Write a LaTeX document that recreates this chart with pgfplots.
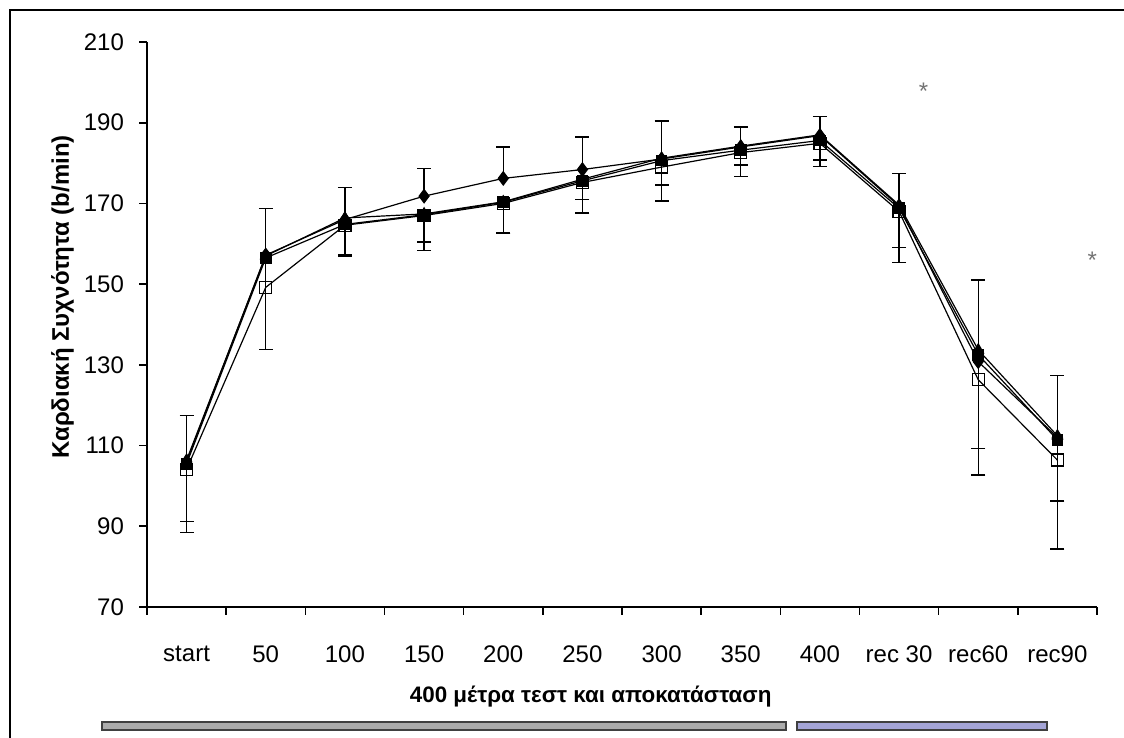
\documentclass[border=0pt]{standalone}
\usepackage{fontspec}
\setmainfont{Liberation Sans}
\usepackage{pgfplots}
\usepackage{pgfplotstable}
\pgfplotsset{compat=1.18}

% heart rate per stage: four groups, with error bar lengths
\pgfplotstableread{
x A     Ap   T     S     Sm   C     Cm
0 106.0 11.5 106.4 105.5 14.3 104.1 15.6
1 157.2 11.6 157.0 156.5 22.7 149.2 15.4
2 166.0 8.0  166.4 164.8 7.6  164.6 7.6
3 171.8 6.8  167.4 167.2 6.8  167.0 8.6
4 176.2 7.8  170.4 170.3 7.6  170.0 7.3
5 178.4 8.1  176.0 175.6 4.6  175.2 7.6
6 181.0 9.4  181.2 180.6 6.0  179.0 8.4
7 184.0 4.9  184.2 183.2 3.7  182.6 6.0
8 186.8 4.8  187.0 185.6 4.8  184.9 5.8
9 169.3 8.1  169.6 168.8 9.7  168.0 12.7
10 130.8 20.2 133.7 132.5 23.3 126.3 23.6
11 112.0 15.3 112.4 111.4 15.1 106.4 22.0
}\hrdata

\definecolor{barblue}{RGB}{165,165,215}

\begin{document}
\begin{tikzpicture}
\begin{axis}[
    at={(73.5pt,65.5pt)}, anchor=south west,
    scale only axis, width=475pt, height=282.5pt,
    xmin=-0.5, xmax=11.5, ymin=70, ymax=210,
    axis lines*=left,
    axis line style={line width=0.9pt},
    tick align=outside, major tick length=4pt,
    tick style={black, line width=0.8pt},
    ytick={70,90,...,210},
    xtick={-0.5,0.5,...,11.5},
    x tick label as interval,
    xticklabels={start,50,100,150,200,250,300,350,400,rec 30,rec60,rec90},
    xticklabel style={yshift=-12pt},
    yticklabel style={xshift=-4pt},
    tick label style={font=\fontsize{12}{14}\selectfont},
    /pgf/number format/assume math mode=true,
    ylabel={Καρδιακή Συχνότητα (b/min)},
    ylabel style={font=\fontsize{12}{14}\selectfont\bfseries,
        at={(axis description cs:-0.089,0.549)}, anchor=center},
    xlabel={400 μέτρα τεστ και αποκατάσταση},
    xlabel style={font=\fontsize{11.2}{13}\selectfont\bfseries,
        at={(axis description cs:0.467,-0.159)}, anchor=center},
    clip=false,
    error bars/error bar style={line width=0.7pt, black},
    error bars/error mark options={rotate=90, mark size=3.5pt, line width=0.7pt},
]
\addplot[black, line width=0.6pt, mark=square, mark size=3pt,
    mark options={fill=white, solid},
    error bars/.cd, y dir=minus, y explicit]
    table[x=x, y=C, y error minus=Cm] {\hrdata};
\addplot[black, line width=0.6pt, mark=square*, mark size=2.6pt,
    error bars/.cd, y dir=minus, y explicit]
    table[x=x, y=S, y error minus=Sm] {\hrdata};
\addplot[black, line width=0.6pt, mark=triangle*, mark size=3pt]
    table[x=x, y=T] {\hrdata};
\addplot[black, line width=0.6pt, mark=diamond*, mark size=3.3pt,
    error bars/.cd, y dir=plus, y explicit]
    table[x=x, y=A, y error plus=Ap] {\hrdata};
\node[text=black!55, font=\fontsize{12}{14}\selectfont] at (axis cs:9.31,197.8) {*};
\node[text=black!55, font=\fontsize{12}{14}\selectfont] at (axis cs:11.44,155.9) {*};
\end{axis}
% frame and stage bars under the axis
\draw[line width=1pt] (5pt,0pt) -- (5pt,364pt) -- (562pt,364pt);
\filldraw[fill=gray!65, draw=black!75, line width=0.6pt] (51pt,4pt) rectangle (393pt,8pt);
\filldraw[fill=barblue, draw=black!75, line width=0.6pt] (398.5pt,4pt) rectangle (523.5pt,8pt);
\pgfresetboundingbox
\path[use as bounding box] (0pt,0pt) rectangle (562pt,369pt);
\end{tikzpicture}
\end{document}
